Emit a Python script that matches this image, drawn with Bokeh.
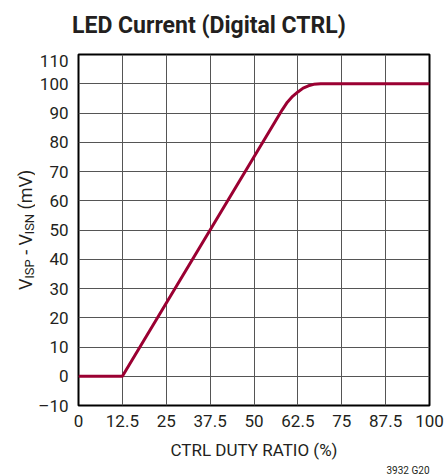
import math
from bokeh.plotting import figure
from bokeh.models import Range1d, FixedTicker, Label, Title
from bokeh.layouts import row, column
from bokeh.embed import file_html
from bokeh.resources import INLINE

# ---- data ----
x_ticks = [0, 12.5, 25, 37.5, 50, 62.5, 75, 87.5, 100]
x_tick_labels = ["0", "12.5", "25", "37.5", "50", "62.5", "75", "87.5", "100"]
y_ticks = [-10, 0, 10, 20, 30, 40, 50, 60, 70, 80, 90, 100, 110]
y_tick_labels = ["\u201310", "0", "10", "20", "30", "40", "50", "60", "70", "80", "90", "100", "110"]

duty = [0, 12.5, 56, 58, 59.5, 61, 62.5, 64, 65.5, 67, 69, 100]
vdiff = [0, 0, 87, 91, 93.7, 95.7, 97.2, 98.5, 99.3, 99.8, 100, 100]

title_text = "LED Current (Digital CTRL)"
x_label = "CTRL DUTY RATIO (%)"
footnote = "3932 G20"

FONT = "Roboto"
TXT = "#231f20"
TITLE_H = 50
H = 476 - TITLE_H
TOP, BOTTOM = 4, 71

y_range = Range1d(-10, 110)

# ---- title strip ----
tfig = figure(width=444, height=TITLE_H, x_range=Range1d(0, 444), y_range=Range1d(TITLE_H, 0),
              output_backend="svg", toolbar_location=None, title=None,
              x_axis_type=None, y_axis_type=None, min_border=0,
              min_border_left=0, min_border_right=0, min_border_top=0, min_border_bottom=0)
tfig.grid.visible = False
tfig.outline_line_color = None
tfig.background_fill_color = "white"
tfig.border_fill_color = "white"
tfig.add_layout(Label(x=71.5, y=25, text=title_text, text_font=FONT, text_font_size="23px",
                      text_font_style="bold", text_color=TXT, text_baseline="alphabetic",
                      text_align="left"))

# ---- main plot ----
p = figure(width=409, height=H, x_range=Range1d(0, 100), y_range=y_range,
           output_backend="svg", toolbar_location=None, title=None,
           min_border_left=42, min_border_right=15, min_border_top=TOP, min_border_bottom=BOTTOM)

p.xaxis.ticker = FixedTicker(ticks=x_ticks)
p.yaxis.ticker = FixedTicker(ticks=y_ticks)
p.xaxis.major_label_overrides = {t: l for t, l in zip(x_ticks, x_tick_labels)}
p.yaxis.major_label_overrides = {t: l for t, l in zip(y_ticks, y_tick_labels)}

p.axis.axis_line_color = None
p.axis.major_tick_line_color = None
p.axis.minor_tick_line_color = None
p.axis.major_tick_out = 0
p.axis.major_tick_in = 0
p.axis.major_label_text_font = FONT
p.axis.major_label_text_font_size = "17px"
p.axis.major_label_text_color = TXT
p.xaxis.major_label_standoff = 9
p.yaxis.major_label_standoff = 10

p.xaxis.axis_label = x_label
p.xaxis.axis_label_text_font = FONT
p.xaxis.axis_label_text_font_size = "17px"
p.xaxis.axis_label_text_font_style = "normal"
p.xaxis.axis_label_text_color = TXT
p.xaxis.axis_label_standoff = 10

p.grid.grid_line_color = "#555555"
p.grid.grid_line_width = 1
p.outline_line_color = "black"
p.outline_line_width = 2
p.background_fill_color = "white"
p.border_fill_color = "white"

p.line(duty, vdiff, line_color="#9b0032", line_width=3, line_join="round")

# footnote
p.add_layout(Title(text=footnote, align="right", offset=0, standoff=0,
                   text_font=FONT, text_font_size="10px", text_font_style="normal",
                   text_color=TXT), "below")

# ---- y axis label in a narrow side figure sharing the y range ----
ylab = figure(width=35, height=H, x_range=Range1d(0, 35), y_range=y_range,
              output_backend="svg", toolbar_location=None, title=None,
              x_axis_type=None, y_axis_type=None,
              min_border_left=0, min_border_right=0, min_border_top=TOP, min_border_bottom=BOTTOM)
ylab.grid.visible = False
ylab.outline_line_color = None
ylab.background_fill_color = "white"
ylab.border_fill_color = "white"

main_x = 25
sub_x = 28.5
pieces = [
    ("V", main_x, 29.45, "18px"),
    ("ISP", sub_x, 33.3, "13px"),
    ("- V", main_x, 41.5, "18px"),
    ("ISN", sub_x, 48.5, "13px"),
    ("(mV)", main_x, 57.0, "18px"),
]
for txt, xx, yy, fs in pieces:
    ylab.add_layout(Label(x=xx, y=yy, text=txt, angle=math.pi / 2, text_font=FONT,
                          text_font_size=fs, text_color=TXT, text_baseline="alphabetic",
                          text_align="left"))

layout = column(tfig, row(ylab, p))
open("out.html", "w").write(file_html(layout, INLINE))
